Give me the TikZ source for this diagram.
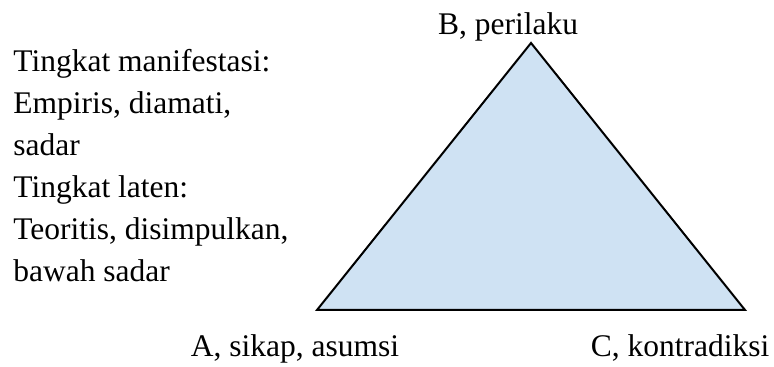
\documentclass[tikz,border=0pt]{standalone}
\usepackage{fontspec}
\setmainfont{Liberation Serif}
\newfontfamily\hurufteks{Liberation Serif}
\definecolor{segitiga}{HTML}{CFE2F3}

\begin{document}
\begin{tikzpicture}[x=0.5pt, y=0.5pt,
    teks/.style={inner sep=0pt, font=\hurufteks\fontsize{15.75}{21}\selectfont}]
    \useasboundingbox (0,0) rectangle (774,367);

    \coordinate (puncakB) at (531,324);
    \coordinate (sudutA) at (317,57);
    \coordinate (sudutC) at (745,57);
    \draw[line width=1pt, fill=segitiga, line join=miter]
        (puncakB) -- (sudutA) -- (sudutC) -- cycle;

    \node[teks, anchor=base] (b) at (508,332) {B, perilaku};
    \node[teks, anchor=base] (a) at (295,10) {A, sikap, asumsi};
    \node[teks, anchor=base] (c) at (680,10) {C, kontradiksi};

    \node[teks, anchor=north west, align=left] (tingkat) at (13,318)
        {Tingkat manifestasi:\\Empiris, diamati,\\sadar\\Tingkat laten:\\Teoritis, disimpulkan,\\bawah sadar};
\end{tikzpicture}
\end{document}
